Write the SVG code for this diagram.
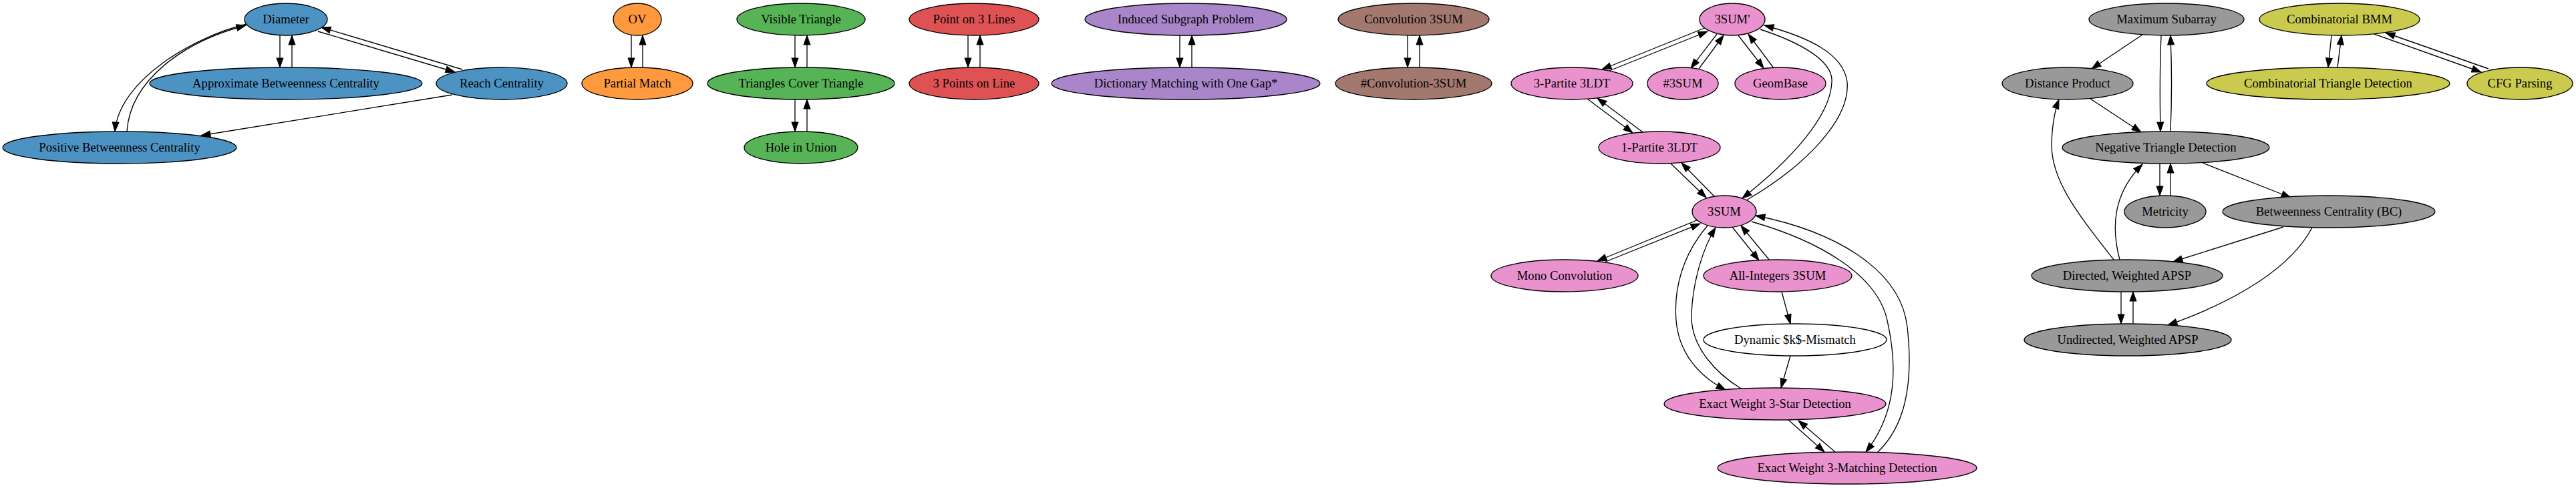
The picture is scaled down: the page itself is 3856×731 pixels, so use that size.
<svg xmlns="http://www.w3.org/2000/svg" width="3856" height="731" viewBox="0 0 3856 731">
<style>
.n ellipse{stroke:#000;stroke-width:1.33}
.n text{font-family:"Liberation Serif","Times New Roman",serif;font-size:18.67px;text-anchor:middle;fill:#000}
#edges path{fill:none;stroke:#000;stroke-width:1.33;marker-end:url(#arr)}
.blue{fill:#4c92c3}.orange{fill:#ff993e}.green{fill:#56b356}.red{fill:#de5253}.purple{fill:#a985ca}.brown{fill:#a3786f}.pink{fill:#e992ce}.gray{fill:#999999}.olive{fill:#c9ca4e}.white{fill:#ffffff}
</style>
<defs>
<marker id="arr" markerUnits="userSpaceOnUse" markerWidth="16" markerHeight="12" viewBox="-1 -1 15.3 11.33" refX="13.3" refY="4.67" orient="auto" overflow="visible">
<path d="M0,0 L13.3,4.67 L0,9.33 Z" fill="#000" stroke="#000" stroke-width="1"/>
</marker>
</defs>
<rect width="3856" height="731" fill="#fff"/>
<g id="edges">
<path d="M419,53 L419,101"/>
<path d="M437,101 L437,53"/>
<path d="M476,47 L681,108"/>
<path d="M692,104 L481,41"/>
<path d="M369,36 C290,55 178,120 172,197"/>
<path d="M190,197 C195,120 275,62 368,38"/>
<path d="M677,142 L301,203"/>
<path d="M945,53 L945,101"/>
<path d="M962,101 L962,53"/>
<path d="M1190,53 L1190,101"/>
<path d="M1208,101 L1208,53"/>
<path d="M1190,149 L1190,197"/>
<path d="M1208,197 L1208,149"/>
<path d="M1449,53 L1449,101"/>
<path d="M1467,101 L1467,53"/>
<path d="M1766,53 L1766,101"/>
<path d="M1784,101 L1784,53"/>
<path d="M2107,53 L2107,101"/>
<path d="M2125,101 L2125,53"/>
<path d="M2554,41 L2398,104"/>
<path d="M2404,108 L2556,47"/>
<path d="M2570,51 L2531,102"/>
<path d="M2543,103 L2580,53"/>
<path d="M2602,53 L2640,102"/>
<path d="M2655,102 L2617,51"/>
<path d="M2614,300 C2700,250 2770,180 2765,123 C2760,80 2705,55 2641,38"/>
<path d="M2635,44 C2690,62 2745,90 2742,123 C2740,175 2680,240 2608,297"/>
<path d="M2376,148 L2444,199"/>
<path d="M2459,198 L2391,147"/>
<path d="M2501,245 L2554,296"/>
<path d="M2567,295 L2517,244"/>
<path d="M2542,329 L2391,391"/>
<path d="M2396,395 L2545,335"/>
<path d="M2593,340 L2633,390"/>
<path d="M2649,390 L2606,338"/>
<path d="M2556,338 C2520,380 2505,430 2509,480 C2513,530 2545,565 2583,584"/>
<path d="M2606,582 C2570,560 2530,520 2532,470 C2534,420 2550,370 2568,341"/>
<path d="M2622,332 C2720,360 2810,410 2825,480 C2845,570 2830,630 2793,677"/>
<path d="M2810,678 C2850,640 2865,580 2855,490 C2845,400 2740,345 2628,323"/>
<path d="M2667,437 L2680,485"/>
<path d="M2680,533 L2666,581"/>
<path d="M2677,629 L2731,677"/>
<path d="M2747,677 L2692,630"/>
<path d="M3207,52 L3131,103"/>
<path d="M3235,53 C3233,100 3233,150 3234,197"/>
<path d="M3249,197 C3251,150 3251,100 3249,53"/>
<path d="M3129,148 L3205,198"/>
<path d="M3233,245 L3233,293"/>
<path d="M3249,293 L3249,245"/>
<path d="M3297,244 L3429,296"/>
<path d="M3418,340 L3253,392"/>
<path d="M3461,341 C3430,400 3350,450 3245,487"/>
<path d="M3175,437 L3175,485"/>
<path d="M3193,485 L3193,437"/>
<path d="M3164,389 C3110,320 3070,270 3071,215 C3072,185 3076,165 3082,149"/>
<path d="M3173,389 C3160,340 3163,290 3207,246"/>
<path d="M3490,53 L3485,101"/>
<path d="M3499,101 L3505,53"/>
<path d="M3554,51 L3714,108"/>
<path d="M3725,103 L3571,49"/>
</g>
<g id="n_diameter" class="n"><ellipse class="blue" cx="428" cy="29" rx="62" ry="24"/><text x="428" y="35">Diameter</text></g>
<g id="n_approx_bc" class="n"><ellipse class="blue" cx="428" cy="125" rx="204" ry="24"/><text x="428" y="131">Approximate Betweenness Centrality</text></g>
<g id="n_reach" class="n"><ellipse class="blue" cx="751" cy="125" rx="98" ry="24"/><text x="751" y="131">Reach Centrality</text></g>
<g id="n_positive_bc" class="n"><ellipse class="blue" cx="179" cy="221" rx="175" ry="24"/><text x="179" y="227">Positive Betweenness Centrality</text></g>
<g id="n_ov" class="n"><ellipse class="orange" cx="954" cy="29" rx="36" ry="24"/><text x="954" y="35">OV</text></g>
<g id="n_partial_match" class="n"><ellipse class="orange" cx="954" cy="125" rx="83" ry="24"/><text x="954" y="131">Partial Match</text></g>
<g id="n_visible_triangle" class="n"><ellipse class="green" cx="1199" cy="29" rx="96" ry="24"/><text x="1199" y="35">Visible Triangle</text></g>
<g id="n_tct" class="n"><ellipse class="green" cx="1199" cy="125" rx="140" ry="24"/><text x="1199" y="131">Triangles Cover Triangle</text></g>
<g id="n_hole" class="n"><ellipse class="green" cx="1199" cy="221" rx="85" ry="24"/><text x="1199" y="227">Hole in Union</text></g>
<g id="n_point3" class="n"><ellipse class="red" cx="1458" cy="29" rx="97" ry="24"/><text x="1458" y="35">Point on 3 Lines</text></g>
<g id="n_3points" class="n"><ellipse class="red" cx="1458" cy="125" rx="97" ry="24"/><text x="1458" y="131">3 Points on Line</text></g>
<g id="n_induced" class="n"><ellipse class="purple" cx="1775" cy="29" rx="151" ry="24"/><text x="1775" y="35">Induced Subgraph Problem</text></g>
<g id="n_dictionary" class="n"><ellipse class="purple" cx="1775" cy="125" rx="201" ry="24"/><text x="1775" y="131">Dictionary Matching with One Gap*</text></g>
<g id="n_conv3sum" class="n"><ellipse class="brown" cx="2116" cy="29" rx="113" ry="24"/><text x="2116" y="35">Convolution 3SUM</text></g>
<g id="n_sharpconv" class="n"><ellipse class="brown" cx="2116" cy="125" rx="117" ry="24"/><text x="2116" y="131">#Convolution-3SUM</text></g>
<g id="n_3sumprime" class="n"><ellipse class="pink" cx="2593" cy="29" rx="49" ry="24"/><text x="2593" y="35">3SUM'</text></g>
<g id="n_3partite" class="n"><ellipse class="pink" cx="2353" cy="125" rx="91" ry="24"/><text x="2353" y="131">3-Partite 3LDT</text></g>
<g id="n_sharp3sum" class="n"><ellipse class="pink" cx="2519" cy="125" rx="53" ry="24"/><text x="2519" y="131">#3SUM</text></g>
<g id="n_geombase" class="n"><ellipse class="pink" cx="2665" cy="125" rx="68" ry="24"/><text x="2665" y="131">GeomBase</text></g>
<g id="n_1partite" class="n"><ellipse class="pink" cx="2484" cy="221" rx="91" ry="24"/><text x="2484" y="227">1-Partite 3LDT</text></g>
<g id="n_3sum" class="n"><ellipse class="pink" cx="2581" cy="317" rx="48" ry="24"/><text x="2581" y="323">3SUM</text></g>
<g id="n_mono" class="n"><ellipse class="pink" cx="2342" cy="413" rx="110" ry="24"/><text x="2342" y="419">Mono Convolution</text></g>
<g id="n_allint" class="n"><ellipse class="pink" cx="2661" cy="413" rx="111" ry="24"/><text x="2661" y="419">All-Integers 3SUM</text></g>
<g id="n_dynamic" class="n"><ellipse class="white" cx="2687" cy="509" rx="137" ry="24"/><text x="2687" y="515">Dynamic $k$-Mismatch</text></g>
<g id="n_3star" class="n"><ellipse class="pink" cx="2657" cy="605" rx="166" ry="24"/><text x="2657" y="611">Exact Weight 3-Star Detection</text></g>
<g id="n_3matching" class="n"><ellipse class="pink" cx="2765" cy="701" rx="194" ry="24"/><text x="2765" y="707">Exact Weight 3-Matching Detection</text></g>
<g id="n_maxsub" class="n"><ellipse class="gray" cx="3243" cy="29" rx="116" ry="24"/><text x="3243" y="35">Maximum Subarray</text></g>
<g id="n_bmm" class="n"><ellipse class="olive" cx="3502" cy="29" rx="120" ry="24"/><text x="3502" y="35">Combinatorial BMM</text></g>
<g id="n_distprod" class="n"><ellipse class="gray" cx="3095" cy="125" rx="98" ry="24"/><text x="3095" y="131">Distance Product</text></g>
<g id="n_ctd" class="n"><ellipse class="olive" cx="3485" cy="125" rx="182" ry="24"/><text x="3485" y="131">Combinatorial Triangle Detection</text></g>
<g id="n_cfg" class="n"><ellipse class="olive" cx="3772" cy="125" rx="79" ry="24"/><text x="3772" y="131">CFG Parsing</text></g>
<g id="n_ntd" class="n"><ellipse class="gray" cx="3242" cy="221" rx="155" ry="24"/><text x="3242" y="227">Negative Triangle Detection</text></g>
<g id="n_metricity" class="n"><ellipse class="gray" cx="3241" cy="317" rx="61" ry="24"/><text x="3241" y="323">Metricity</text></g>
<g id="n_bc" class="n"><ellipse class="gray" cx="3486" cy="317" rx="159" ry="24"/><text x="3486" y="323">Betweenness Centrality (BC)</text></g>
<g id="n_dir_apsp" class="n"><ellipse class="gray" cx="3184" cy="413" rx="143" ry="24"/><text x="3184" y="419">Directed, Weighted APSP</text></g>
<g id="n_undir_apsp" class="n"><ellipse class="gray" cx="3185" cy="509" rx="155" ry="24"/><text x="3185" y="515">Undirected, Weighted APSP</text></g>
</svg>
